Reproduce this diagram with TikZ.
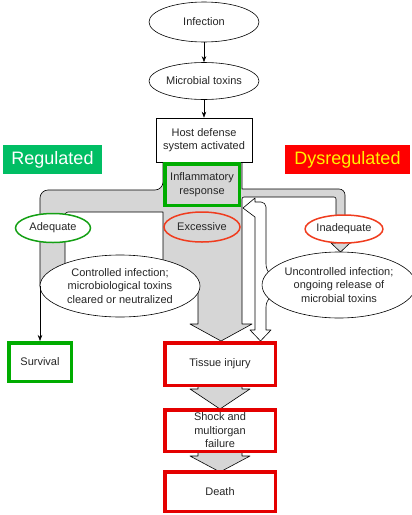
\documentclass[tikz,border=0pt]{standalone}
\usepackage{fontspec}
\setmainfont{Liberation Sans}
\usetikzlibrary{shapes.geometric,arrows.meta}
\definecolor{gfill}{RGB}{214,214,214}
\definecolor{boxgreen}{RGB}{0,172,0}
\definecolor{boxred}{RGB}{228,0,0}
\definecolor{labgreen}{RGB}{0,190,100}
\definecolor{ovgreen}{RGB}{20,160,20}
\definecolor{ovred}{RGB}{240,60,30}
\begin{document}
\begin{tikzpicture}[x=1pt,y=-1pt,
  txt/.style={font=\fontsize{11}{13.5}\selectfont, align=center, text=black!85},
  oval/.style={ellipse, draw, line width=0.6pt, fill=white, inner sep=0pt, txt},
  plainbox/.style={rectangle, draw, line width=0.6pt, fill=white, inner sep=0pt, txt},
  greenbox/.style={rectangle, draw=boxgreen, line width=3.5pt, fill=white, inner sep=0pt, txt},
  redbox/.style={rectangle, draw=boxred, line width=3.5pt, fill=white, inner sep=0pt, txt},
  coloval/.style={ellipse, line width=1.5pt, inner sep=0pt, txt},
  tag/.style={rectangle, inner sep=0pt, font=\fontsize{18}{20}\selectfont},
  gshape/.style={fill=gfill, draw=black, line width=0.6pt, line join=round},
  hollow/.style={fill=white, draw=black, line width=0.6pt, line join=round},
  arr/.style={-{Stealth[length=6pt,width=4.5pt]}, line width=0.6pt}
]
\useasboundingbox (0,0) rectangle (412,515);

% wide gray arrows (trunk, left and right branches)
\draw[gshape] (163,162) -- (242,162) -- (242,189)
  [rounded corners=6pt] -- (345,189) -- (345,243) [sharp corners]
  -- (350,243) -- (340.5,252) -- (331,243) -- (336,243)
  [rounded corners=2pt] -- (336,197) -- (242,197) [sharp corners]
  -- (242,324) -- (252,324) -- (221,341) -- (190,324) -- (198,324)
  -- (198,292) -- (163,292) -- (163,212)
  [rounded corners=3pt] -- (65,212) [sharp corners] -- (65,272) -- (40,286)
  [rounded corners=8pt] -- (40,190) -- (163,190) [sharp corners] -- cycle;

% gray arrows between the lower boxes
\draw[gshape] (198,385) -- (198,389) -- (190,389) -- (220,409) -- (250,389) -- (242,389) -- (242,385);
\draw[gshape] (198,451) -- (198,456) -- (190,456) -- (220,472) -- (250,456) -- (242,456) -- (242,451);

% hollow feedback arrow
\draw[hollow] (243,208) -- (255,198) -- (255,202)
  [rounded corners=5pt] -- (266,202) [sharp corners] -- (266,264)
  to[out=-90,in=180] (282,279) -- (282,293) to[out=180,in=90] (266,307)
  -- (266,330) -- (271,330) -- (260.5,341) -- (250,330) -- (255,330)
  -- (255,217) -- cycle;

% nodes
\node[oval, minimum width=110pt, minimum height=40pt] (inf) at (204,22) {Infection};
\node[oval, minimum width=110pt, minimum height=37pt] (tox) at (204,81) {Microbial toxins};
\node[plainbox, minimum width=96pt, minimum height=44pt] (host) at (204,140) {Host defense\\system activated};

\node[tag, fill=labgreen, text=white, minimum width=99pt, minimum height=29pt] (reg) at (52.5,159.5) {Regulated};
\node[tag, fill=red, text=yellow, minimum width=125pt, minimum height=29pt] (dys) at (347.5,159.5) {Dysregulated};

\node[greenbox, fill=gfill, minimum width=74.5pt, minimum height=41.5pt] (infl) at (202,184.5) {Inflammatory\\response};

\node[coloval, draw=ovgreen, fill=white, minimum width=75pt, minimum height=29pt] (adeq) at (53,228) {Adequate};
\node[coloval, draw=ovred, minimum width=76pt, minimum height=30pt] (exc) at (202,227) {Excessive};
\node[coloval, draw=ovred, fill=white, minimum width=76pt, minimum height=28pt] (inad) at (344,229) {Inadequate};

\node[oval, minimum width=160pt, minimum height=62pt] (ctrl) at (120,286) {Controlled infection;\\microbiological toxins\\cleared or neutralized};
\node[oval, minimum width=144pt, minimum height=66pt] (unctrl) at (339,285) {Uncontrolled infection;\\ongoing release of\\microbial toxins};

\node[greenbox, minimum width=62.5pt, minimum height=38.5pt] (surv) at (40,362) {Survival};
\node[redbox, minimum width=110.5pt, minimum height=42.5pt] (tis) at (220,364) {Tissue injury};
\node[redbox, minimum width=110.5pt, minimum height=41.5pt] (shock) at (220,430.5) {Shock and\\multiorgan\\failure};
\node[redbox, minimum width=110.5pt, minimum height=39.5pt] (death) at (220,491.5) {Death};

% thin connectors
\draw[arr] (inf) -- (tox);
\draw[arr] (tox) -- (host);
\coordinate (advl) at (40,286);
\draw[arr] (advl) -- (surv.north);
\end{tikzpicture}
\end{document}
